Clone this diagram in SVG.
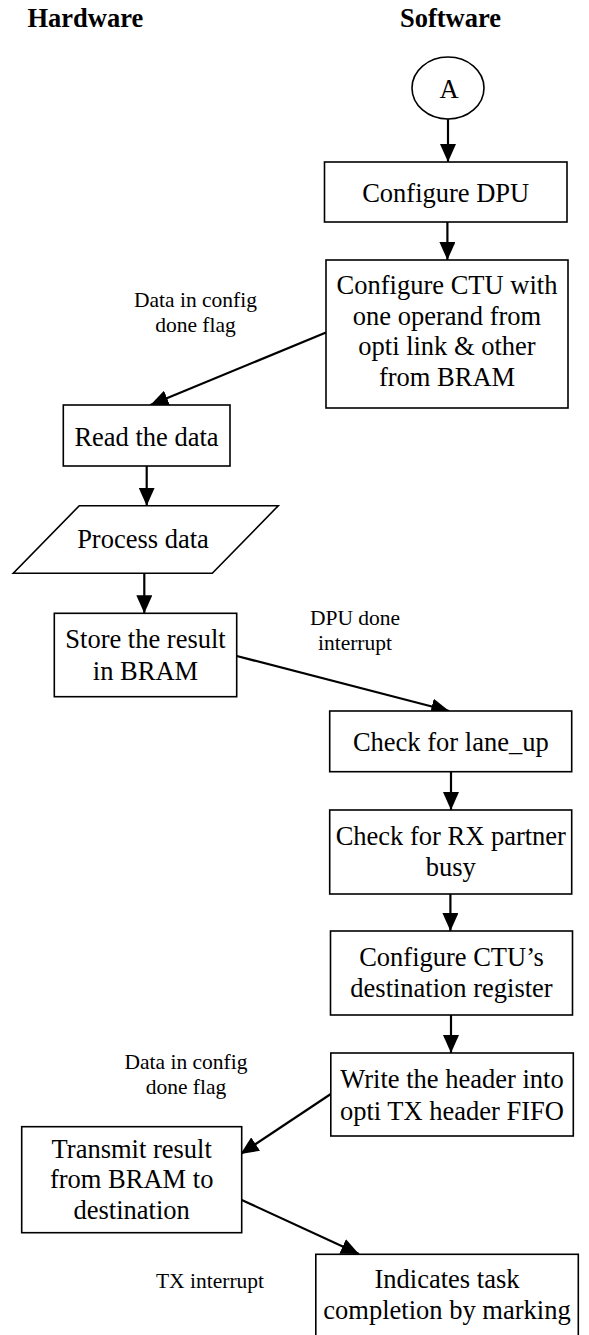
<svg xmlns="http://www.w3.org/2000/svg" width="589" height="1335" viewBox="0 0 589 1335">
<defs>
<style>
.bx{fill:#fff;stroke:#000;stroke-width:1.6}
.t{font-family:"Liberation Serif","Times New Roman",serif;font-size:26.5px;fill:#000;text-anchor:middle}
.h{font-family:"Liberation Serif","Times New Roman",serif;font-size:26.5px;font-weight:bold;fill:#000;text-anchor:middle}
.l{font-family:"Liberation Serif","Times New Roman",serif;font-size:21.5px;fill:#000;text-anchor:middle}
.c{fill:none;stroke:#000;stroke-width:2.2;marker-end:url(#ah)}
</style>
<marker id="ah" markerUnits="userSpaceOnUse" viewBox="0 0 18 16" markerWidth="18" markerHeight="16" refX="18" refY="8" orient="auto">
<path d="M0,0 L18,8 L0,16 z" fill="#000"/>
</marker>
</defs>
<rect width="589" height="1335" fill="#fff"/>
<g id="headers">
<text class="h" x="85.3" y="27">Hardware</text>
<text class="h" x="450.5" y="27">Software</text>
</g>
<g id="connectors">
<line class="c" x1="448" y1="119" x2="448" y2="162"/>
<line class="c" x1="447.4" y1="222" x2="447.4" y2="260"/>
<line class="c" x1="326" y1="332.5" x2="150.4" y2="405"/>
<line class="c" x1="146.7" y1="466" x2="146.7" y2="505.7"/>
<line class="c" x1="144.3" y1="573.3" x2="144.3" y2="613.3"/>
<line class="c" x1="236.7" y1="656" x2="449.2" y2="711"/>
<line class="c" x1="451" y1="771.7" x2="451" y2="810"/>
<line class="c" x1="450.4" y1="894" x2="450.4" y2="931"/>
<line class="c" x1="451" y1="1015" x2="451" y2="1053"/>
<line class="c" x1="330.8" y1="1094" x2="240.6" y2="1154"/>
<line class="c" x1="241.7" y1="1200" x2="359" y2="1254"/>
</g>
<g id="labels">
<text class="l" x="195.5" y="306.7">Data in config</text>
<text class="l" x="195.5" y="331.7">done flag</text>
<text class="l" x="355" y="625">DPU done</text>
<text class="l" x="355" y="650">interrupt</text>
<text class="l" x="186" y="1069">Data in config</text>
<text class="l" x="186" y="1094">done flag</text>
<text class="l" x="210" y="1288">TX interrupt</text>
</g>
<g id="nodeA">
<ellipse class="bx" cx="448" cy="88" rx="36" ry="31"/>
<text class="t" x="449" y="97.5">A</text>
</g>
<g id="configDPU">
<rect class="bx" x="324.5" y="162" width="242.5" height="60"/>
<text class="t" x="445.7" y="201.7">Configure DPU</text>
</g>
<g id="configCTU">
<rect class="bx" x="326" y="260" width="242" height="148"/>
<text class="t" x="447" y="294">Configure CTU with</text>
<text class="t" x="447" y="324.5">one operand from</text>
<text class="t" x="447" y="355">opti link &amp; other</text>
<text class="t" x="447" y="385.5">from BRAM</text>
</g>
<g id="readData">
<rect class="bx" x="63.3" y="405" width="166.7" height="61"/>
<text class="t" x="146.5" y="446">Read the data</text>
</g>
<g id="processData">
<polygon class="bx" points="79.3,505.7 278.3,505.7 212.3,573.3 13.3,573.3"/>
<text class="t" x="143" y="548.3">Process data</text>
</g>
<g id="storeResult">
<rect class="bx" x="54.3" y="613.3" width="182.4" height="83.4"/>
<text class="t" x="145.5" y="648.3">Store the result</text>
<text class="t" x="145.5" y="680">in BRAM</text>
</g>
<g id="laneUp">
<rect class="bx" x="329.7" y="711" width="242" height="60.7"/>
<text class="t" x="450.8" y="750.7">Check for lane_up</text>
</g>
<g id="rxBusy">
<rect class="bx" x="329.7" y="810" width="242" height="84"/>
<text class="t" x="450.8" y="845">Check for RX partner</text>
<text class="t" x="450.8" y="876">busy</text>
</g>
<g id="configDest">
<rect class="bx" x="330.5" y="931" width="242" height="84"/>
<text class="t" x="451.5" y="966">Configure CTU’s</text>
<text class="t" x="451.5" y="997">destination register</text>
</g>
<g id="writeHeader">
<rect class="bx" x="330.8" y="1053" width="242.5" height="83"/>
<text class="t" x="452" y="1088">Write the header into</text>
<text class="t" x="452" y="1120">opti TX header FIFO</text>
</g>
<g id="transmit">
<rect class="bx" x="21.7" y="1126.7" width="220" height="106"/>
<text class="t" x="131.7" y="1157.7">Transmit result</text>
<text class="t" x="131.7" y="1188.3">from BRAM to</text>
<text class="t" x="131.7" y="1219">destination</text>
</g>
<g id="indicates">
<rect class="bx" x="315.8" y="1254.3" width="262.5" height="100"/>
<text class="t" x="447" y="1288">Indicates task</text>
<text class="t" x="447" y="1319">completion by marking</text>
</g>
</svg>
